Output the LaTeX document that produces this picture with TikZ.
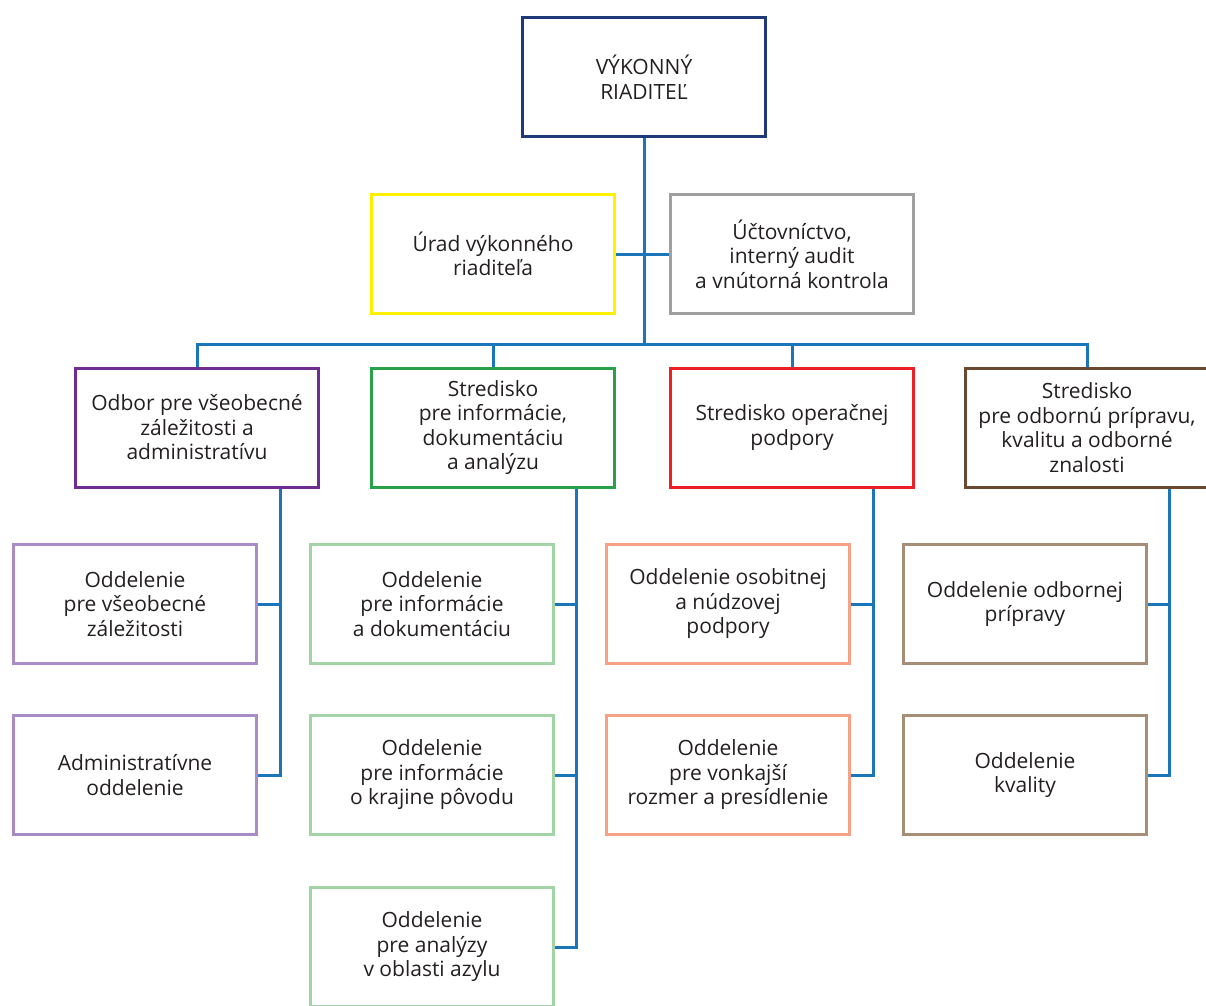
\documentclass[tikz,border=0pt]{standalone}
\usepackage{fontspec}
\setmainfont{Open Sans}
\definecolor{navy}{RGB}{31,58,122}
\definecolor{cyel}{RGB}{255,240,0}
\definecolor{cgray}{RGB}{160,160,162}
\definecolor{cpurp}{RGB}{111,44,145}
\definecolor{cgreen}{RGB}{40,162,74}
\definecolor{cred}{RGB}{237,32,38}
\definecolor{cbrown}{RGB}{106,74,47}
\definecolor{lpurp}{RGB}{169,139,198}
\definecolor{lgreen}{RGB}{163,212,165}
\definecolor{lsalm}{RGB}{247,161,134}
\definecolor{ltan}{RGB}{166,142,119}
\definecolor{cline}{RGB}{27,117,187}
\definecolor{ctext}{RGB}{35,31,32}
\tikzset{
  box/.style={draw, line width=3pt, rectangle, minimum width=243pt, minimum height=119pt,
    inner sep=0pt, align=center, text=ctext,
    font=\fontsize{21pt}{24.5pt}\selectfont},
  conn/.style={draw=cline, line width=3pt}
}
\begin{document}
\begin{tikzpicture}[x=1pt,y=-1pt]
\useasboundingbox (0,0) rectangle (1206,1005);
\clip (0,0) rectangle (1206,1005);
% top levels
\node[box, draw=navy] (top) at (644,77) {VÝKONNÝ\\RIADITEĽ};
\node[box, draw=cyel] (urad) at (493,254) {Úrad výkonného\\riaditeľa};
\node[box, draw=cgray] (uct) at (792,254) {Účtovníctvo,\\interný audit\\a vnútorná kontrola};
% second level
\node[box, draw=cpurp] (odbor) at (197,427.5) {Odbor pre všeobecné\\záležitosti a\\administratívu};
\node[box, draw=cgreen] (sinfo) at (493,427.5) {Stredisko\\pre informácie,\\dokumentáciu\\a analýzu};
\node[box, draw=cred] (soper) at (792,427.5) {Stredisko operačnej\\podpory};
\node[box, draw=cbrown] (sodb) at (1087,427.5) {Stredisko\\pre odbornú prípravu,\\kvalitu a odborné\\znalosti};
% third level
\node[box, draw=lpurp] (p1) at (135,604) {Oddelenie\\pre všeobecné\\záležitosti};
\node[box, draw=lpurp] (p2) at (135,775) {Administratívne\\oddelenie};
\node[box, draw=lgreen] (g1) at (432,604) {Oddelenie\\pre informácie\\a dokumentáciu};
\node[box, draw=lgreen] (g2) at (432,775) {Oddelenie\\pre informácie\\o krajine pôvodu};
\node[box, draw=lgreen] (g3) at (432,947) {Oddelenie\\pre analýzy\\v oblasti azylu};
\node[box, draw=lsalm] (o1) at (728,604) {Oddelenie osobitnej\\a núdzovej\\podpory};
\node[box, draw=lsalm] (o2) at (728,775) {Oddelenie\\pre vonkajší\\rozmer a presídlenie};
\node[box, draw=ltan] (b1) at (1025,604) {Oddelenie odbornej\\prípravy};
\node[box, draw=ltan] (b2) at (1025,775) {Oddelenie\\kvality};
% coordinates
\coordinate (bus) at (644,344);
\coordinate (xp) at (280,0);
\coordinate (xg) at (576,0);
\coordinate (xo) at (873,0);
\coordinate (xb) at (1169,0);
% connectors
\draw[conn] (top.south) -- (bus);
\draw[conn] (urad.east) -- (uct.west);
\draw[conn] (odbor.north) |- (bus) -| (sodb.north);
\draw[conn] (sinfo.north) -- (sinfo.north |- bus);
\draw[conn] (soper.north) -- (soper.north |- bus);
\draw[conn] (odbor.south -| xp) -- (xp |- p2.east) -- (p2.east);
\draw[conn] (p1.east) -- (p1.east -| xp);
\draw[conn] (sinfo.south -| xg) -- (xg |- g3.east) -- (g3.east);
\draw[conn] (g1.east) -- (g1.east -| xg);
\draw[conn] (g2.east) -- (g2.east -| xg);
\draw[conn] (soper.south -| xo) -- (xo |- o2.east) -- (o2.east);
\draw[conn] (o1.east) -- (o1.east -| xo);
\draw[conn] (sodb.south -| xb) -- (xb |- b2.east) -- (b2.east);
\draw[conn] (b1.east) -- (b1.east -| xb);
\end{tikzpicture}
\end{document}
